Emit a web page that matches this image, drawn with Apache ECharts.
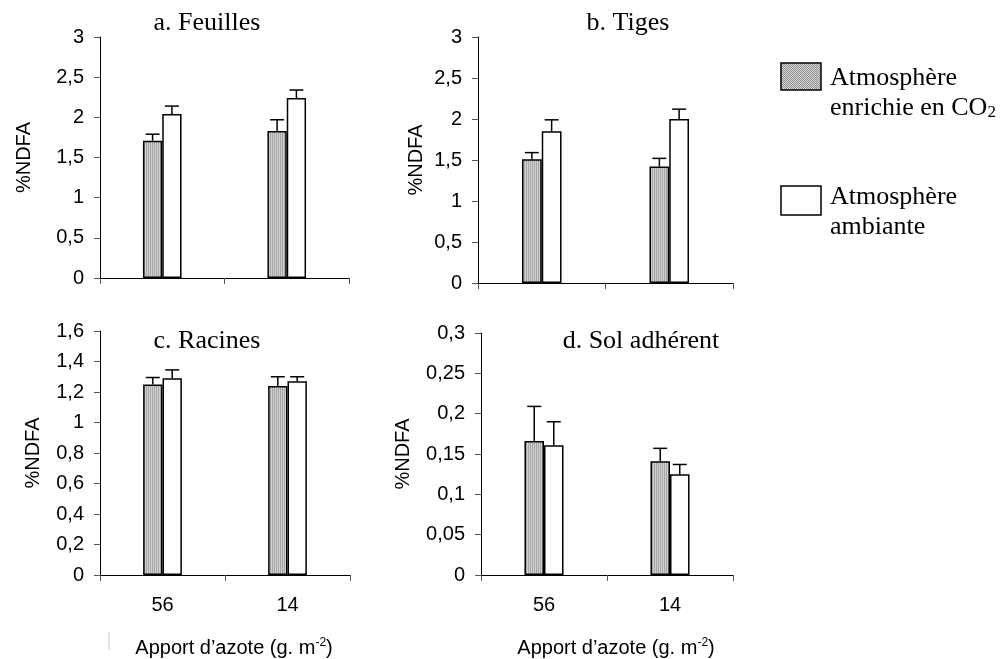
<!DOCTYPE html>
<html>
<head>
<meta charset="utf-8">
<script src="https://cdn.jsdelivr.net/npm/echarts@6/dist/echarts.min.js"></script>
<style>
  html, body { margin: 0; padding: 0; background: #fff; }
  #chart { width: 1001px; height: 659px; }
</style>
</head>
<body>
<div id="chart"></div>
<script>
// Nitrogen supply levels (g. m-2)
const categories = ['56', '14'];

// a. Feuilles
const feuillesEnrichie = [1.71, 1.83];
const feuillesEnrichieErr = [0.08, 0.14];
const feuillesAmbiante = [2.04, 2.24];
const feuillesAmbianteErr = [0.10, 0.10];

// b. Tiges
const tigesEnrichie = [1.51, 1.42];
const tigesEnrichieErr = [0.08, 0.10];
const tigesAmbiante = [1.85, 2.00];
const tigesAmbianteErr = [0.14, 0.12];

// c. Racines
const racinesEnrichie = [1.25, 1.24];
const racinesEnrichieErr = [0.045, 0.06];
const racinesAmbiante = [1.29, 1.27];
const racinesAmbianteErr = [0.055, 0.03];

// d. Sol adhérent
const solEnrichie = [0.166, 0.141];
const solEnrichieErr = [0.043, 0.016];
const solAmbiante = [0.161, 0.125];
const solAmbianteErr = [0.029, 0.012];

// Axis ranges
const feuillesTicks = { max: 3, interval: 0.5 };
const tigesTicks = { max: 3, interval: 0.5 };
const racinesTicks = { max: 1.6, interval: 0.2 };
const solTicks = { max: 0.3, interval: 0.05 };

const SANS = '"Liberation Sans", Arial, sans-serif';
const SERIF = '"Liberation Serif", "Times New Roman", serif';
const BAR_RATIO = 0.155;

function makePattern(w, h, draw) {
  const c = document.createElement('canvas');
  c.width = w; c.height = h;
  draw(c.getContext('2d'));
  return { image: c, repeat: 'repeat' };
}
// fine vertical hatching for the enriched-CO2 bars
const stripeFill = makePattern(2, 2, g => {
  g.fillStyle = '#d0d0d0'; g.fillRect(0, 0, 2, 2);
  g.fillStyle = '#a6a6a6'; g.fillRect(0, 0, 1, 2);
});
// stippled swatch used in the key
const dotFill = makePattern(2, 2, g => {
  g.fillStyle = '#dadada'; g.fillRect(0, 0, 2, 2);
  g.fillStyle = '#8c8c8c'; g.fillRect(0, 0, 1, 1); g.fillRect(1, 1, 1, 1);
});

const panels = [
  { title: 'a. Feuilles', titlePos: [207, 23], grid: { left: 100, top: 37, width: 249, height: 241 },
    ticks: feuillesTicks, enr: feuillesEnrichie, enrErr: feuillesEnrichieErr, amb: feuillesAmbiante, ambErr: feuillesAmbianteErr,
    showX: false, yGap: 66 },
  { title: 'b. Tiges', titlePos: [628, 23], grid: { left: 478, top: 37, width: 255, height: 246 },
    ticks: tigesTicks, enr: tigesEnrichie, enrErr: tigesEnrichieErr, amb: tigesAmbiante, ambErr: tigesAmbianteErr,
    showX: false, yGap: 52 },
  { title: 'c. Racines', titlePos: [207, 341], grid: { left: 100, top: 331, width: 250, height: 244 },
    ticks: racinesTicks, enr: racinesEnrichie, enrErr: racinesEnrichieErr, amb: racinesAmbiante, ambErr: racinesAmbianteErr,
    showX: true, yGap: 57 },
  { title: 'd. Sol adhérent', titlePos: [641, 341], grid: { left: 481, top: 333, width: 252, height: 246 },
    ticks: solTicks, enr: solEnrichie, enrErr: solEnrichieErr, amb: solAmbiante, ambErr: solAmbianteErr,
    showX: true, yGap: 68 }
];

function commaLabel(v) {
  return String(parseFloat(Number(v).toFixed(3))).replace('.', ',');
}

function errorBarRenderer(side) {
  return function (params, api) {
    const idx = api.value(0);
    const val = api.value(1);
    const err = api.value(2);
    const band = api.size([1, 0])[0];
    const bw = band * BAR_RATIO;
    const base = api.coord([idx, val]);
    const top = api.coord([idx, val + err]);
    const x = base[0] + side * bw / 2;
    const cap = 7;
    const st = { stroke: '#000', lineWidth: 1.5 };
    return {
      type: 'group',
      children: [
        { type: 'line', shape: { x1: x, y1: base[1], x2: x, y2: top[1] }, style: st },
        { type: 'line', shape: { x1: x - cap, y1: top[1], x2: x + cap, y2: top[1] }, style: st }
      ]
    };
  };
}

const grids = [], xAxes = [], yAxes = [], series = [], graphics = [];

panels.forEach((p, i) => {
  grids.push(Object.assign({ containLabel: false }, p.grid));
  xAxes.push({
    type: 'category', gridIndex: i, data: categories,
    axisLine: { lineStyle: { color: '#000', width: 1 } },
    axisTick: { show: true, length: 6, lineStyle: { color: '#555' } },
    axisLabel: { show: p.showX, margin: 20, color: '#000', fontFamily: SANS, fontSize: 20 },
    name: p.showX ? 'Apport d’azote (g. m{sup|-2})' : '',
    nameLocation: 'middle', nameGap: 62,
    nameTextStyle: {
      color: '#000', fontFamily: SANS, fontSize: 20, padding: [0, 0, 0, 18],
      rich: { sup: { fontSize: 12, fontFamily: SANS, color: '#000', padding: [0, 0, 10, 0] } }
    }
  });
  yAxes.push({
    type: 'value', gridIndex: i, min: 0, max: p.ticks.max, interval: p.ticks.interval,
    splitLine: { show: false },
    axisLine: { show: true, lineStyle: { color: '#000', width: 1 } },
    axisTick: { show: true, length: 6, lineStyle: { color: '#555' } },
    axisLabel: { margin: 16, color: '#000', fontFamily: SANS, fontSize: 20, formatter: commaLabel },
    name: '%NDFA', nameLocation: 'middle', nameGap: p.yGap,
    nameTextStyle: { color: '#000', fontFamily: SANS, fontSize: 20 }
  });
  series.push({
    type: 'bar', xAxisIndex: i, yAxisIndex: i, data: p.enr,
    barWidth: (BAR_RATIO * 100) + '%', barGap: '0%',
    itemStyle: { color: stripeFill, borderColor: '#000', borderWidth: 1.5 },
    silent: true, animation: false
  });
  series.push({
    type: 'bar', xAxisIndex: i, yAxisIndex: i, data: p.amb,
    barWidth: (BAR_RATIO * 100) + '%', barGap: '0%',
    itemStyle: { color: '#fff', borderColor: '#000', borderWidth: 1.5 },
    silent: true, animation: false
  });
  series.push({
    type: 'custom', xAxisIndex: i, yAxisIndex: i, z: 5,
    renderItem: errorBarRenderer(-1),
    encode: { x: 0, y: 1 },
    data: p.enr.map((v, k) => [k, v, p.enrErr[k]]),
    silent: true, animation: false
  });
  series.push({
    type: 'custom', xAxisIndex: i, yAxisIndex: i, z: 5,
    renderItem: errorBarRenderer(1),
    encode: { x: 0, y: 1 },
    data: p.amb.map((v, k) => [k, v, p.ambErr[k]]),
    silent: true, animation: false
  });
  graphics.push({
    type: 'text', x: p.titlePos[0], y: p.titlePos[1], z: 10,
    style: { text: p.title, fill: '#000', font: '26px ' + SERIF, align: 'center', verticalAlign: 'middle' }
  });
});

// key
const keyFont = '26px ' + SERIF;
graphics.push(
  { type: 'rect', shape: { x: 781, y: 63, width: 40, height: 27 }, style: { fill: dotFill, stroke: '#000', lineWidth: 1.5 } },
  { type: 'text', x: 830, y: 78, style: { text: 'Atmosphère', fill: '#000', font: keyFont, verticalAlign: 'middle' } },
  { type: 'text', x: 830, y: 108, style: {
      text: 'enrichie en CO{sub|2}', fill: '#000', font: keyFont, verticalAlign: 'middle',
      rich: { sub: { fontSize: 17, fontFamily: SERIF, fill: '#000', padding: [10, 0, 0, 0] } } } },
  { type: 'rect', shape: { x: 781, y: 186, width: 40, height: 29 }, style: { fill: '#fff', stroke: '#000', lineWidth: 1.5 } },
  { type: 'text', x: 830, y: 197, style: { text: 'Atmosphère', fill: '#000', font: keyFont, verticalAlign: 'middle' } },
  { type: 'text', x: 830, y: 227, style: { text: 'ambiante', fill: '#000', font: keyFont, verticalAlign: 'middle' } },
  { type: 'line', shape: { x1: 109, y1: 632, x2: 109, y2: 650 }, style: { stroke: '#c8c8c8', lineWidth: 1 } }
);

const chart = echarts.init(document.getElementById('chart'), null, { renderer: 'canvas' });
chart.setOption({
  backgroundColor: '#fff',
  animation: false,
  grid: grids,
  xAxis: xAxes,
  yAxis: yAxes,
  series: series,
  graphic: graphics
});
</script>
</body>
</html>
